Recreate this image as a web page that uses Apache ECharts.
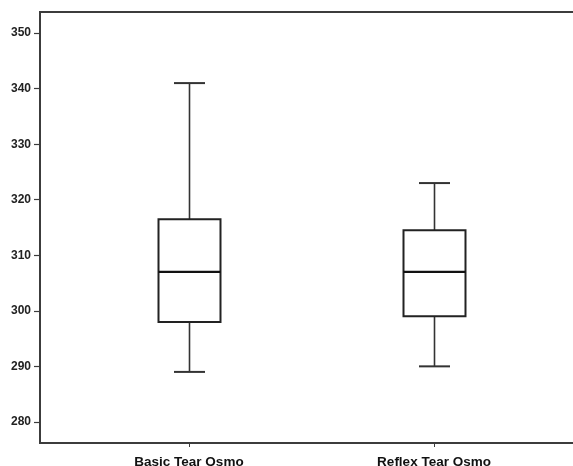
<!DOCTYPE html>
<html>
<head>
<meta charset="utf-8">
<script src="https://cdn.jsdelivr.net/npm/echarts@6/dist/echarts.min.js"></script>
<style>html,body{margin:0;padding:0;background:#fff;}#c{width:573px;height:466px;}</style>
</head>
<body>
<div id="c"></div>
<script>
const categories = ['Basic Tear Osmo', 'Reflex Tear Osmo'];
const whiskerLow = [289, 290];
const quartile1 = [298, 299];
const medians = [307, 307];
const quartile3 = [316.5, 314.5];
const whiskerHigh = [341, 323];
const yTicks = [280, 290, 300, 310, 320, 330, 340, 350];

const data = categories.map((c, i) => [i, whiskerLow[i], quartile1[i], medians[i], quartile3[i], whiskerHigh[i]]);

const chart = echarts.init(document.getElementById('c'));
chart.setOption({
  animation: false,
  backgroundColor: '#fff',
  grid: {
    left: 40, top: 12, width: 543, height: 431,
    show: true, borderColor: '#3c3c3c', borderWidth: 2,
    containLabel: false, outerBoundsMode: 'none'
  },
  xAxis: {
    type: 'value', min: -0.608, max: 1.608,
    splitLine: { show: false },
    axisLine: { show: true, onZero: false, lineStyle: { color: '#3c3c3c', width: 2 } },
    axisTick: { show: true, customValues: [0, 1], length: 4, lineStyle: { color: '#3c3c3c', width: 1 } },
    axisLabel: {
      customValues: [0, 1], margin: 12,
      formatter: v => categories[Math.round(v)] || '',
      fontFamily: 'Liberation Sans, Arial, sans-serif', fontWeight: 'bold', fontSize: 13.5, color: '#111'
    }
  },
  yAxis: {
    type: 'value', min: 276.2, max: 353.8,
    splitLine: { show: false },
    axisLine: { show: true, onZero: false, lineStyle: { color: '#3c3c3c', width: 2 } },
    axisTick: { show: true, customValues: yTicks, length: 6, lineStyle: { color: '#3c3c3c', width: 1.2 } },
    axisLabel: {
      customValues: yTicks, margin: 9,
      fontFamily: 'Liberation Sans, Arial, sans-serif', fontWeight: 'bold', fontSize: 12, color: '#222'
    }
  },
  series: [{
    type: 'custom',
    data: data,
    encode: { x: 0, y: [1, 2, 3, 4, 5] },
    renderItem: function (params, api) {
      const x = api.value(0);
      const c = v => api.coord([x, v]);
      const halfBox = api.size([0.253, 0])[0] / 2;
      const halfCap = api.size([0.1265, 0])[0] / 2;
      const pMin = c(api.value(1)), pQ1 = c(api.value(2)), pMed = c(api.value(3)),
            pQ3 = c(api.value(4)), pMax = c(api.value(5));
      const cx = Math.round(pMin[0]) + 0.5;
      const wStyle = { stroke: '#333', lineWidth: 1.6 };
      const bStyle = { stroke: '#222', lineWidth: 2, fill: 'none' };
      return {
        type: 'group',
        children: [
          { type: 'line', shape: { x1: cx, y1: pMax[1], x2: cx, y2: pQ3[1] }, style: wStyle },
          { type: 'line', shape: { x1: cx, y1: pQ1[1], x2: cx, y2: pMin[1] }, style: wStyle },
          { type: 'line', shape: { x1: cx - halfCap, y1: pMax[1], x2: cx + halfCap, y2: pMax[1] }, style: { stroke: '#333', lineWidth: 2 } },
          { type: 'line', shape: { x1: cx - halfCap, y1: pMin[1], x2: cx + halfCap, y2: pMin[1] }, style: { stroke: '#333', lineWidth: 2 } },
          { type: 'rect', shape: { x: cx - halfBox, y: pQ3[1], width: halfBox * 2, height: pQ1[1] - pQ3[1] }, style: bStyle },
          { type: 'line', shape: { x1: cx - halfBox, y1: pMed[1], x2: cx + halfBox, y2: pMed[1] }, style: { stroke: '#111', lineWidth: 2.2 } }
        ]
      };
    }
  }]
});
</script>
</body>
</html>
